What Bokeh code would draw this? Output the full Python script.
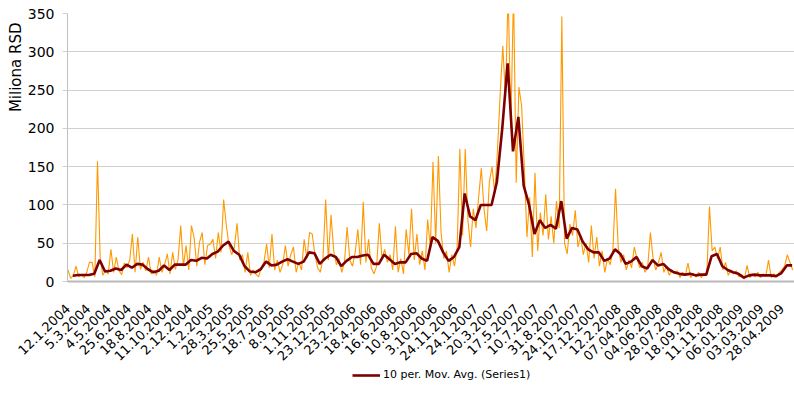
from bokeh.plotting import figure
from bokeh.layouts import column
from bokeh.models import FixedTicker, Legend, LegendItem, Title, Range1d, ColumnDataSource
from bokeh.embed import file_html
from bokeh.resources import INLINE

# ---- data ----
tick_labels = ["12.1.2004", "5.3.2004", "4.5.2004", "25.6.2004", "18.8.2004", "11.10.2004",
               "2.12.2004", "1.2.2005", "28.3.2005", "25.5.2005", "18.7.2005", "8.9.2005",
               "1.11.2005", "23.12.2005", "23.2.2006", "18.4.2006", "16.6.2006", "10.8.2006",
               "3.10.2006", "24.11.2006", "24.1.2007", "20.3.2007", "17.5.2007", "10.7.2007",
               "31.8.2007", "24.10.2007", "17.12.2007", "12.2.2008", "07.04.2008", "04.06.2008",
               "28.07.2008", "18.09.2008", "11.11.2008", "06.01.2009", "03.03.2009", "28.04.2009"]
label_every = 38          # trading days between shown category labels

raw_step = 5              # Series1, sampled every 5th trading day
series1 = [15, 4, 8, 20, 6, 9, 5, 12, 25, 25, 6, 157, 30, 8, 15, 10, 42, 12, 32, 14,
           9, 24, 18, 28, 62, 12, 58, 16, 25, 14, 32, 10, 15, 8, 32, 12, 22, 36, 10, 38,
           16, 28, 73, 20, 47, 15, 73, 57, 20, 51, 64, 22, 47, 49, 55, 30, 64, 38, 107, 73,
           47, 35, 45, 76, 28, 35, 12, 38, 8, 15, 10, 6, 18, 25, 49, 18, 62, 15, 28, 12,
           22, 47, 20, 35, 45, 12, 25, 15, 55, 30, 64, 62, 35, 18, 12, 30, 107, 28, 87, 40,
           22, 30, 12, 25, 71, 28, 20, 38, 68, 22, 104, 25, 55, 18, 10, 20, 76, 30, 42, 25,
           35, 15, 72, 12, 30, 10, 68, 35, 95, 28, 62, 22, 40, 15, 81, 45, 156, 50, 164, 64,
           30, 40, 12, 35, 20, 45, 173, 60, 173, 80, 45, 95, 70, 110, 148, 95, 66, 130, 150, 115,
           170, 243, 308, 240, 380, 200, 380, 129, 254, 230, 150, 58, 110, 32, 142, 40, 90, 60, 114, 55,
           85, 50, 105, 70, 346, 50, 36, 75, 60, 93, 45, 60, 35, 50, 25, 73, 30, 58, 20, 40,
           12, 30, 22, 40, 121, 45, 25, 35, 15, 28, 18, 45, 30, 18, 25, 12, 20, 64, 30, 15,
           25, 38, 12, 20, 8, 15, 10, 14, 5, 12, 8, 24, 5, 10, 6, 12, 5, 10, 8, 98,
           40, 45, 30, 45, 15, 25, 8, 15, 10, 14, 6, 9, 3, 21, 5, 10, 6, 12, 5, 10,
           7, 28, 5, 10, 6, 12, 15, 20, 35, 25, 15]

ma_first = 9              # first day with a 10-day average
ma_step = 10
mov_avg = [7.5, 8.5, 8.5, 8.5, 10, 28, 13, 14, 17, 15, 22, 18, 23, 22, 16, 12, 14, 21, 15, 22,
           22, 22, 28, 27, 31, 30, 36, 39, 47, 52, 40, 35, 20, 13, 12, 16, 26, 21, 22, 26,
           29, 26, 23, 26, 38, 37, 23, 30, 35, 32, 20, 27, 32, 32, 34, 35, 23, 23, 35, 29,
           23, 25, 25, 36, 37, 30, 27, 58, 53, 38, 27, 32, 45, 115, 85, 80, 100, 100, 100, 130,
           200, 285, 170, 215, 125, 100, 62, 80, 70, 74, 69, 105, 56, 70, 68, 52, 42, 38, 38, 27,
           30, 42, 36, 23, 26, 32, 20, 17, 28, 21, 23, 16, 12, 10, 9, 10, 8, 9, 9, 33,
           36, 20, 15, 12, 10, 5, 8, 9, 8, 8, 8, 7, 11, 21, 21]

y_ticks = [0, 50, 100, 150, 200, 250, 300, 350]

# ---- derived ----
raw_x = [i * raw_step for i in range(len(series1))]
ma_x = [ma_first + i * ma_step for i in range(len(mov_avg))]
tick_pos = [i * label_every for i in range(len(tick_labels))]

FONT = "DejaVu Sans"
GRID = "#d0d0d0"
MA_COLOR = "#7F0000"

p = figure(width=794, height=367, output_backend="svg", toolbar_location=None,
           x_range=Range1d(-0.9, 1353.4), y_range=Range1d(0, 350),
           min_border_left=67, min_border_right=0, min_border_top=13, min_border_bottom=84,
           outline_line_color=None, background_fill_color="white", border_fill_color="white")

raw_src = ColumnDataSource(dict(x=raw_x, y=series1))
ma_src = ColumnDataSource(dict(x=ma_x, y=mov_avg))
p.line("x", "y", source=raw_src, line_color="#FF9900", line_width=1.1)
p.line("x", "y", source=ma_src, line_color=MA_COLOR, line_width=2.6)

# y axis
p.yaxis.ticker = FixedTicker(ticks=y_ticks)
p.yaxis.major_label_text_font = FONT
p.yaxis.major_label_text_font_size = "14px"
p.yaxis.major_label_text_color = "#000000"
p.yaxis.axis_line_color = "#bfbfbf"
p.yaxis.major_tick_line_color = GRID
p.yaxis.major_tick_out = 5
p.yaxis.major_tick_in = 0
p.yaxis.minor_tick_line_color = None
p.yaxis.major_label_standoff = 8
p.ygrid.ticker = FixedTicker(ticks=y_ticks)
p.ygrid.grid_line_color = GRID
p.ygrid.grid_line_width = 1.2
p.xgrid.grid_line_color = None

# x axis
p.xaxis.ticker = FixedTicker(ticks=tick_pos)
p.xaxis.major_label_overrides = {t: lab for t, lab in zip(tick_pos, tick_labels)}
p.xaxis.major_label_orientation = 0.77
p.xaxis.major_label_text_font = FONT
p.xaxis.major_label_text_font_size = "13px"
p.xaxis.major_label_text_color = "#000000"
p.xaxis.axis_line_color = "#b8b8b8"
p.xaxis.axis_line_width = 2
p.xaxis.major_tick_line_color = None
p.xaxis.minor_tick_line_color = None
p.xaxis.major_label_standoff = 19

# y axis title at the top of the left side
t = Title(text="Miliona RSD", align="right", text_font=FONT, text_font_size="15px",
          text_font_style="normal", text_color="#000000", offset=9, standoff=0)
p.add_layout(t, "left")

# legend strip under the chart (its frame is aligned with the chart's frame)
lp = figure(width=794, height=33, output_backend="svg", toolbar_location=None,
            x_axis_type=None, y_axis_type=None, x_range=Range1d(0, 1), y_range=Range1d(0, 1),
            min_border=0, min_border_left=67, outline_line_color=None,
            background_fill_color="white", border_fill_color="white")
lp.grid.visible = False
key = lp.line("x", "y", source=ma_src, line_color=MA_COLOR, line_width=2.6)  # outside view: key only
legend = Legend(items=[LegendItem(label="10 per. Mov. Avg. (Series1)", renderers=[key])],
                location=(285, 19), orientation="horizontal",
                label_text_font=FONT, label_text_font_size="11px", label_text_color="#000000",
                glyph_width=28, glyph_height=12, label_standoff=3, padding=1, margin=0,
                border_line_color=None, background_fill_alpha=0)
lp.add_layout(legend, "center")

open("out.html", "w").write(file_html(column(p, lp, spacing=0), INLINE))
